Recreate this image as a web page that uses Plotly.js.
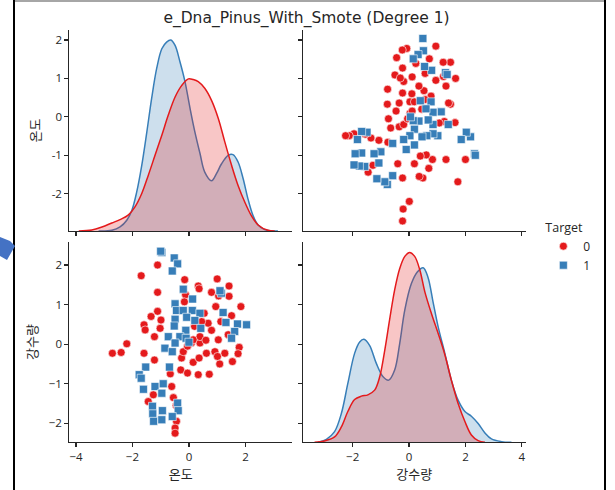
<!DOCTYPE html>
<html>
<head>
<meta charset="utf-8">
<script src="https://cdn.plot.ly/plotly-3.0.1.min.js"></script>
<style>
  html, body { margin: 0; padding: 0; background: #ffffff; }
  #wrap { position: relative; width: 615px; height: 490px; overflow: hidden; }
  #chart { position: absolute; left: 0; top: 0; width: 615px; height: 490px; }
  #deco { position: absolute; left: 0; top: 0; width: 615px; height: 490px; pointer-events: none; }
</style>
</head>
<body>
<div id="wrap">
  <div id="chart"></div>
  <svg id="deco" width="615" height="490" xmlns="http://www.w3.org/2000/svg">
    <rect x="15" y="0" width="590" height="2" fill="#a6a6a6"></rect>
    <rect x="13" y="0" width="2" height="490" fill="#000000"></rect>
    <rect x="604" y="0" width="2" height="490" fill="#000000"></rect>
    <polygon points="0,237 10,241 15,246 7,260 0,256" fill="#4472c4"></polygon>
  </svg>
</div>
<script>
// ---- data: class 0 (red) ----
const tempRed = [-1.11, -1.69, -1.11, -0.15, 0.33, 0.36, 1.00, 1.42, 0.80, 1.05, 1.42, 1.84, 0.95, -0.12, -0.16,
  -1.11, -1.34, -0.99, -1.59, -1.55, -1.02, -1.22, -2.20, -2.71, -2.40, -1.59, -1.22, -0.66, -0.61, -1.26,
  -1.44, -0.55, -0.45, -0.44, -0.49, -0.49, -0.29, -0.05, 0.15, 0.33, 0.72, -0.26, -0.20, 0.09, 0.39,
  0.39, 0.15, 0.36, 0.62, 0.92, 1.09, 1.27, 1.01, 1.54, 1.78, 1.74, 1.51, 0.54, 0.68, 0.80,
  1.13, 1.04, 1.39, 0.45, 0.20, -0.05, 0.60];
const rainRed = [2.00, 1.73, 1.31, 1.63, 1.47, 1.40, 1.65, 1.47, 1.31, 1.22, 1.21, 0.95, 0.95, 1.25, 1.07,
  0.83, 0.70, 0.61, 0.49, 0.36, 0.40, 0.19, 0.01, -0.23, -0.21, -0.23, -0.40, -0.75, -1.07, -1.28,
  -1.45, -1.35, -1.55, -1.95, -2.12, -2.25, -0.65, -0.73, -0.46, -0.77, -0.76, -0.35, -0.19, 0.03, 0.03,
  0.19, 0.11, -0.35, -0.23, -0.19, -0.50, -0.23, -0.31, -0.44, -0.08, -0.24, 0.72, 0.78, 0.53, 0.35,
  0.57, 0.11, 0.24, 0.57, 0.45, -0.05, 0.10];
// ---- data: class 1 (blue) ----
const tempBlue = [-0.96, -1.00, -0.52, -0.40, -0.59, -0.20, 0.13, -0.49, -0.44, -0.20, 0.12, 0.39, -0.08, 0.21, -0.49,
  -0.52, -0.11, 0.42, -0.32, -0.73, -0.49, -0.85, -0.59, -0.69, -1.53, -1.76, -1.69, -1.61, -1.20, -0.91,
  -0.96, -0.40, -1.29, -0.94, -0.38, -1.28, -0.59, -1.25, -0.96, 1.15, 1.21, 1.31, 1.72, 2.04, 1.62,
  1.51, -0.10, 0.00, 1.10];
const rainBlue = [2.32, 2.35, 2.18, 2.03, 1.85, 1.39, 1.14, 1.02, 0.85, 0.85, 0.85, 0.78, 0.68, 0.60, 0.63,
  0.46, 0.35, 0.40, 0.19, 0.19, 0.03, -0.10, -0.19, -0.58, -0.58, -0.77, -0.86, -1.14, -1.07, -1.00,
  -1.24, -1.49, -1.57, -1.68, -1.68, -1.76, -1.83, -1.95, -1.91, 1.29, 0.80, 0.55, 0.51, 0.49, 0.32,
  0.15, 0.15, 0.05, 1.35];

// ---- density curves ----
const kdeTempBlueX = [-3.20, -2.73, -2.44, -2.20, -2.02, -1.85, -1.67, -1.49, -1.32, -1.14, -0.96, -0.79, -0.64, -0.49, -0.32, -0.14,
  0.04, 0.21, 0.39, 0.56, 0.80, 0.98, 1.15, 1.39, 1.56, 1.74, 1.92, 2.09, 2.27, 2.45, 2.68, 3.15];
const kdeTempBlueD = [0, 0.001, 0.006, 0.016, 0.031, 0.058, 0.098, 0.148, 0.198, 0.243, 0.272, 0.282, 0.285, 0.277, 0.253, 0.223,
  0.183, 0.148, 0.116, 0.088, 0.075, 0.086, 0.100, 0.113, 0.114, 0.103, 0.078, 0.048, 0.023, 0.009, 0.002, 0];
const kdeTempRedX = [-3.90, -3.44, -3.08, -2.73, -2.44, -2.14, -1.91, -1.67, -1.44, -1.20, -0.96, -0.73, -0.49, -0.26, -0.02,
  0.15, 0.33, 0.56, 0.80, 1.04, 1.27, 1.51, 1.74, 1.98, 2.21, 2.45, 2.80, 3.04];
const kdeTempRedD = [0, 0.0015, 0.006, 0.012, 0.017, 0.024, 0.036, 0.056, 0.083, 0.113, 0.143, 0.173, 0.200, 0.217, 0.227,
  0.226, 0.223, 0.213, 0.195, 0.168, 0.133, 0.098, 0.068, 0.043, 0.023, 0.009, 0.001, 0];
const kdeRainBlueX = [-3.23, -2.93, -2.64, -2.40, -2.17, -1.93, -1.75, -1.60, -1.40, -1.16, -0.92, -0.72, -0.51, -0.33, -0.15,
  0.08, 0.30, 0.50, 0.67, 0.85, 1.03, 1.27, 1.50, 1.74, 1.98, 2.21, 2.45, 2.69, 2.92, 3.28, 3.63];
const kdeRainBlueD = [0, 0.0045, 0.016, 0.043, 0.088, 0.133, 0.150, 0.154, 0.145, 0.118, 0.098, 0.093, 0.108, 0.148, 0.198,
  0.237, 0.255, 0.261, 0.247, 0.210, 0.173, 0.133, 0.093, 0.063, 0.046, 0.039, 0.028, 0.014, 0.005, 0.001, 0];
const kdeRainRedX = [-3.35, -3.00, -2.64, -2.40, -2.17, -1.93, -1.69, -1.46, -1.22, -1.04, -0.86, -0.69, -0.51, -0.33, -0.15,
  0.02, 0.20, 0.38, 0.56, 0.79, 1.03, 1.27, 1.50, 1.74, 1.98, 2.21, 2.45, 2.69];
const kdeRainRedD = [0, 0.002, 0.008, 0.023, 0.046, 0.064, 0.069, 0.071, 0.078, 0.098, 0.138, 0.183, 0.228, 0.260, 0.278,
  0.284, 0.278, 0.258, 0.225, 0.193, 0.163, 0.131, 0.093, 0.058, 0.031, 0.011, 0.0025, 0];

const classNames = ['0', '1'];
const varNames = ['온도', '강수량'];
const titleText = 'e_Dna_Pinus_With_Smote (Degree 1)';
const tempTicks = [-4, -2, 0, 2];
const rainTicks = [-2, 0, 2, 4];
const yTicks = [-2, -1, 0, 1, 2];
const yTickText = ['-2', '-1', '0', '1', '2'];

const RED = '#e41a1c', BLUE = '#377eb8';
const RED_FILL = 'rgba(228,26,28,0.25)', BLUE_FILL = 'rgba(55,126,184,0.25)';
const FONT = '"Open Sans", "Noto Sans CJK KR", sans-serif';
const TFONT = '"DejaVu Sans", "Noto Sans CJK KR", sans-serif';
const INK = '#262626';

const col1 = [0.001, 0.488], col2 = [0.512, 0.999];
const row1 = [0.5133, 1.0], row2 = [0.0017, 0.4874];
const tempRangeX = [-4.23, 3.65], rainRangeX = [-3.76, 4.13];
const tempRangeY = [-2.97, 2.26], rainRangeY = [-2.48, 2.59];
const densRange = [0, 0.30];

// the diagonal panels plot density, but (like seaborn's twin axes) show the row variable's ticks
function rowTicksOnDensity(range) {
  return yTicks.map(v => densRange[0] + (v - range[0]) / (range[1] - range[0]) * (densRange[1] - densRange[0]));
}

function kde(x, y, color, fill, xa, ya) {
  return { type: 'scatter', mode: 'lines', x: x, y: y, xaxis: xa, yaxis: ya,
    line: { color: color, width: 1.5, shape: 'spline', smoothing: 1 },
    fill: 'tozeroy', fillcolor: fill, showlegend: false, hoverinfo: 'skip' };
}
function pts(x, y, color, symbol, xa, ya, name, showlegend) {
  return { type: 'scatter', mode: 'markers', x: x, y: y, xaxis: xa, yaxis: ya, name: name,
    showlegend: showlegend,
    marker: { color: color, symbol: symbol, size: 8, line: { color: '#ffffff', width: 0.6 } } };
}

const traces = [
  kde(kdeTempBlueX, kdeTempBlueD, BLUE, BLUE_FILL, 'x', 'y'),
  kde(kdeTempRedX, kdeTempRedD, RED, RED_FILL, 'x', 'y'),
  pts(rainRed, tempRed, RED, 'circle', 'x2', 'y2', classNames[0], false),
  pts(rainBlue, tempBlue, BLUE, 'square', 'x2', 'y2', classNames[1], false),
  pts(tempRed, rainRed, RED, 'circle', 'x3', 'y3', classNames[0], true),
  pts(tempBlue, rainBlue, BLUE, 'square', 'x3', 'y3', classNames[1], true),
  kde(kdeRainBlueX, kdeRainBlueD, BLUE, BLUE_FILL, 'x4', 'y4'),
  kde(kdeRainRedX, kdeRainRedD, RED, RED_FILL, 'x4', 'y4')
];

function ax(extra) {
  return Object.assign({
    showgrid: false, zeroline: false, showline: true, linecolor: INK, linewidth: 1.2,
    ticks: 'outside', ticklen: 4, tickwidth: 1.2, tickcolor: INK, mirror: false,
    tickfont: { family: FONT, size: 11.5, color: INK }, fixedrange: true
  }, extra);
}

const layout = {
  width: 615, height: 490,
  margin: { l: 69, r: 89, t: 30, b: 47 },
  paper_bgcolor: '#ffffff', plot_bgcolor: 'rgba(0,0,0,0)',
  font: { family: FONT, color: INK },
  title: { text: titleText, x: 0.4984, xanchor: 'center', y: 0.964, yanchor: 'middle',
    font: { family: TFONT, size: 15.5, color: INK } },
  showlegend: true,
  legend: {
    x: 1.038, xanchor: 'left', y: 0.551, yanchor: 'top',
    title: { text: 'Target', side: 'top', font: { family: FONT, size: 12.5, color: INK } },
    font: { family: FONT, size: 12, color: INK }, bgcolor: 'rgba(0,0,0,0)', borderwidth: 0,
    tracegroupgap: 0
  },
  xaxis: ax({ domain: col1, anchor: 'y', range: tempRangeX, tickvals: tempTicks, showticklabels: false }),
  yaxis: ax({ domain: row1, anchor: 'x', range: densRange,
    tickvals: rowTicksOnDensity(tempRangeY), ticktext: yTickText,
    title: { text: varNames[0], font: { family: FONT, size: 13, color: INK }, standoff: 8 } }),
  xaxis2: ax({ domain: col2, anchor: 'y2', range: rainRangeX, tickvals: rainTicks, showticklabels: false }),
  yaxis2: ax({ domain: row1, anchor: 'x2', range: tempRangeY, tickvals: yTicks, showticklabels: false }),
  xaxis3: ax({ domain: col1, anchor: 'y3', range: tempRangeX, tickvals: tempTicks,
    title: { text: varNames[0], font: { family: FONT, size: 13, color: INK }, standoff: 6 } }),
  yaxis3: ax({ domain: row2, anchor: 'x3', range: rainRangeY, tickvals: yTicks,
    title: { text: varNames[1], font: { family: FONT, size: 13, color: INK }, standoff: 8 } }),
  xaxis4: ax({ domain: col2, anchor: 'y4', range: rainRangeX, tickvals: rainTicks,
    title: { text: varNames[1], font: { family: FONT, size: 13, color: INK }, standoff: 6 } }),
  yaxis4: ax({ domain: row2, anchor: 'x4', range: densRange,
    tickvals: rowTicksOnDensity(rainRangeY), showticklabels: false })
};

Plotly.newPlot('chart', traces, layout, { displayModeBar: false, staticPlot: true });
</script>
</body>
</html>
